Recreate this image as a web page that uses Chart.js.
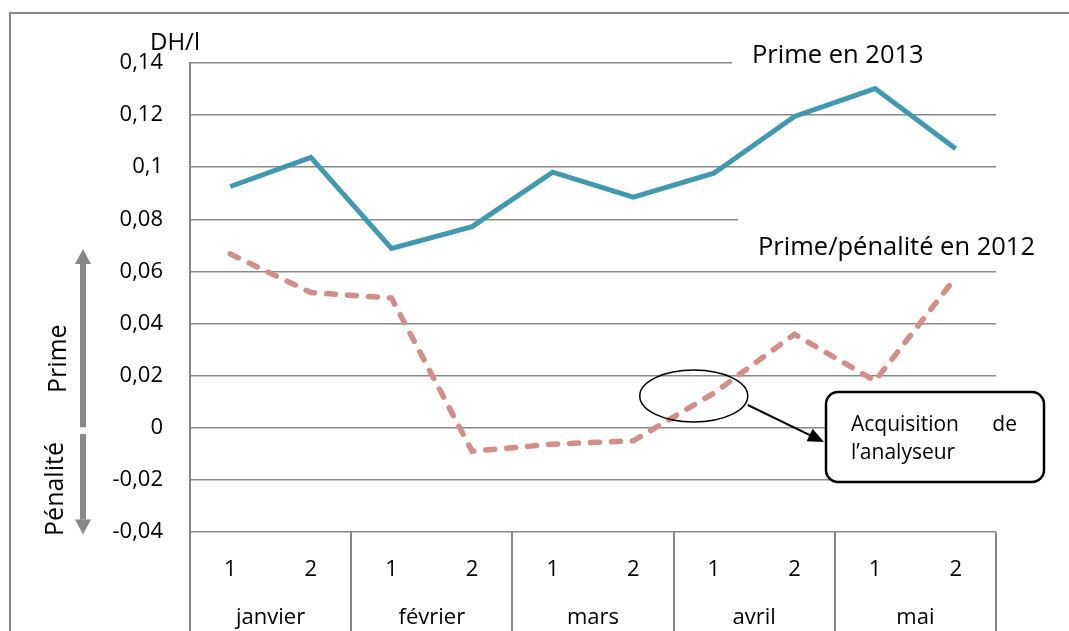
<!DOCTYPE html>
<html>
<head>
<meta charset="utf-8">
<script src="https://cdn.jsdelivr.net/npm/chart.js@4.4.1/dist/chart.umd.min.js"></script>
<style>
  html, body { margin: 0; padding: 0; background: #fff; }
  canvas { display: block; }
</style>
</head>
<body>
<canvas id="chart" width="1069" height="631"></canvas>
<script>
// values (DH/l), two half-months per month
const halves = ['1', '2', '1', '2', '1', '2', '1', '2', '1', '2'];
const months = ['janvier', 'février', 'mars', 'avril', 'mai'];
const prime2013 = [0.0926, 0.1038, 0.0688, 0.0772, 0.0981, 0.0885, 0.0977, 0.1195, 0.1302, 0.1071];
const prime2012 = [0.0667, 0.0519, 0.0498, -0.009, -0.0063, -0.005, 0.0133, 0.0359, 0.018, 0.0577];
const yMin = -0.04, yMax = 0.14, yStep = 0.02;

const FONT = "'Open Sans', 'Noto Sans', sans-serif";
const GRID = '#888888';

function fmt(v) {
    const r = Math.round(v * 100) / 100;
    return (r === 0 ? '0' : String(r)).replace('.', ',');
}

function arrow(ctx, x, y1, y2, color) {
    // vertical gray arrow from y1 to the tip at y2
    const dir = y2 < y1 ? -1 : 1;
    const head = 15;
    ctx.save();
    ctx.strokeStyle = color;
    ctx.fillStyle = color;
    ctx.lineWidth = 6;
    ctx.beginPath();
    ctx.moveTo(x, y1);
    ctx.lineTo(x, y2 - dir * head);
    ctx.stroke();
    ctx.beginPath();
    ctx.moveTo(x, y2);
    ctx.lineTo(x - 8, y2 - dir * head);
    ctx.lineTo(x + 8, y2 - dir * head);
    ctx.closePath();
    ctx.fill();
    ctx.restore();
}

const overlay = {
    id: 'overlay',
    beforeDraw(chart) {
        const ctx = chart.ctx;
        ctx.save();
        ctx.fillStyle = '#fff';
        ctx.fillRect(0, 0, chart.width, chart.height);
        ctx.restore();
    },
    beforeDatasetsDraw(chart) {
        // white boxes behind the two series labels hide bits of the grid
        const ctx = chart.ctx;
        const y = chart.scales.y;
        const right = chart.chartArea.right + 2;
        ctx.save();
        ctx.fillStyle = '#fff';
        ctx.fillRect(732, y.getPixelForValue(0.14) - 5, right - 732, 10);
        ctx.fillRect(738, y.getPixelForValue(0.08) - 5, right - 738, 10);
        ctx.restore();
    },
    afterDraw(chart) {
        const ctx = chart.ctx;
        const x = chart.scales.x;
        const y = chart.scales.y;
        const area = chart.chartArea;
        const catW = (x.getPixelForValue(1) - x.getPixelForValue(0));
        const xAt = i => x.getPixelForValue(0) + i * catW;

        ctx.save();

        // outer frame
        ctx.strokeStyle = GRID;
        ctx.lineWidth = 2;
        ctx.strokeRect(10, 13, 1200, 800);

        // left axis line and month separators down to the bottom
        ctx.lineWidth = 2;
        ctx.beginPath();
        for (let m = 0; m <= months.length; m++) {
            const px = Math.round(xAt(m * 2 - 0.5));
            ctx.moveTo(px, area.bottom);
            ctx.lineTo(px, chart.height);
        }
        ctx.stroke();

        // two-level category labels
        ctx.fillStyle = '#000';
        ctx.textAlign = 'center';
        ctx.textBaseline = 'alphabetic';
        ctx.font = '22px ' + FONT;
        halves.forEach((h, i) => ctx.fillText(h, x.getPixelForValue(i), area.bottom + 44));
        months.forEach((m, i) => ctx.fillText(m, xAt(i * 2 + 0.5), area.bottom + 92));

        // unit
        ctx.textAlign = 'left';
        ctx.font = '24px ' + FONT;
        ctx.fillText('DH/l', 150, 50);

        // series labels
        ctx.font = '25.5px ' + FONT;
        ctx.fillText('Prime en 2013', 752, y.getPixelForValue(0.14));
        ctx.fillText('Prime/pénalité en 2012', 758, y.getPixelForValue(0.0665));

        // Prime / Pénalité arrows on the left
        arrow(ctx, 83, y.getPixelForValue(0.0002), y.getPixelForValue(0.0686), '#888888');
        arrow(ctx, 83, y.getPixelForValue(-0.0024), y.getPixelForValue(-0.0410), '#888888');
        ctx.fillStyle = '#000';
        ctx.textAlign = 'center';
        ctx.font = '25px ' + FONT;
        ctx.save();
        ctx.translate(66, y.getPixelForValue(0.0265));
        ctx.rotate(-Math.PI / 2);
        ctx.fillText('Prime', 0, 0);
        ctx.restore();
        ctx.save();
        ctx.translate(63, y.getPixelForValue(-0.0235));
        ctx.rotate(-Math.PI / 2);
        ctx.fillText('Pénalité', 0, 0);
        ctx.restore();

        // ellipse around the analyser date, arrow, callout box
        const ex = xAt(5.75), ey = y.getPixelForValue(0.0122);
        ctx.strokeStyle = '#000';
        ctx.lineWidth = 1.5;
        ctx.beginPath();
        ctx.ellipse(ex, ey, 54, 26, 0, 0, Math.PI * 2);
        ctx.stroke();

        const ax1 = ex + 54, ay1 = ey + 9, ax2 = 824, ay2 = 442;
        const ang = Math.atan2(ay2 - ay1, ax2 - ax1);
        ctx.lineWidth = 2;
        ctx.beginPath();
        ctx.moveTo(ax1, ay1);
        ctx.lineTo(ax2 - 14 * Math.cos(ang), ay2 - 14 * Math.sin(ang));
        ctx.stroke();
        ctx.fillStyle = '#000';
        ctx.beginPath();
        ctx.moveTo(ax2, ay2);
        ctx.lineTo(ax2 - 16 * Math.cos(ang) + 7 * Math.sin(ang), ay2 - 16 * Math.sin(ang) - 7 * Math.cos(ang));
        ctx.lineTo(ax2 - 16 * Math.cos(ang) - 7 * Math.sin(ang), ay2 - 16 * Math.sin(ang) + 7 * Math.cos(ang));
        ctx.closePath();
        ctx.fill();

        ctx.lineWidth = 2.5;
        ctx.beginPath();
        ctx.roundRect(826, 392, 218, 90, 12);
        ctx.fillStyle = '#fff';
        ctx.fill();
        ctx.stroke();
        ctx.fillStyle = '#000';
        ctx.font = '21px ' + FONT;
        ctx.textAlign = 'left';
        ctx.fillText('Acquisition', 851, 431);
        ctx.textAlign = 'right';
        ctx.fillText('de', 1017, 431);
        ctx.textAlign = 'left';
        ctx.fillText('l\u2019analyseur', 851, 459);

        ctx.restore();
    }
};

new Chart(document.getElementById('chart'), {
    type: 'line',
    data: {
        labels: halves,
        datasets: [
            {
                label: 'Prime en 2013',
                data: prime2013,
                borderColor: '#4199B0',
                borderWidth: 5,
                pointRadius: 0,
                tension: 0,
                borderJoinStyle: 'miter'
            },
            {
                label: 'Prime/pénalité en 2012',
                data: prime2012,
                borderColor: '#D38E8C',
                borderWidth: 5.5,
                borderDash: [9, 12],
                borderCapStyle: 'round',
                pointRadius: 0,
                tension: 0
            }
        ]
    },
    options: {
        responsive: false,
        animation: false,
        layout: { padding: { top: 63, right: 73, left: 0, bottom: 0 } },
        plugins: { legend: { display: false }, tooltip: { enabled: false } },
        scales: {
            x: {
                offset: true,
                grid: { display: false },
                border: { display: false },
                ticks: { display: false },
                afterFit: s => { s.height = 99; }
            },
            y: {
                min: yMin,
                max: yMax,
                ticks: {
                    stepSize: yStep,
                    color: '#000',
                    padding: 27,
                    font: { family: FONT, size: 22 },
                    callback: v => fmt(v)
                },
                grid: { color: GRID, lineWidth: 1.5, drawTicks: false },
                border: { color: GRID, width: 2 },
                afterFit: s => { s.width = 190; }
            }
        }
    },
    plugins: [overlay]
});
</script>
</body>
</html>
